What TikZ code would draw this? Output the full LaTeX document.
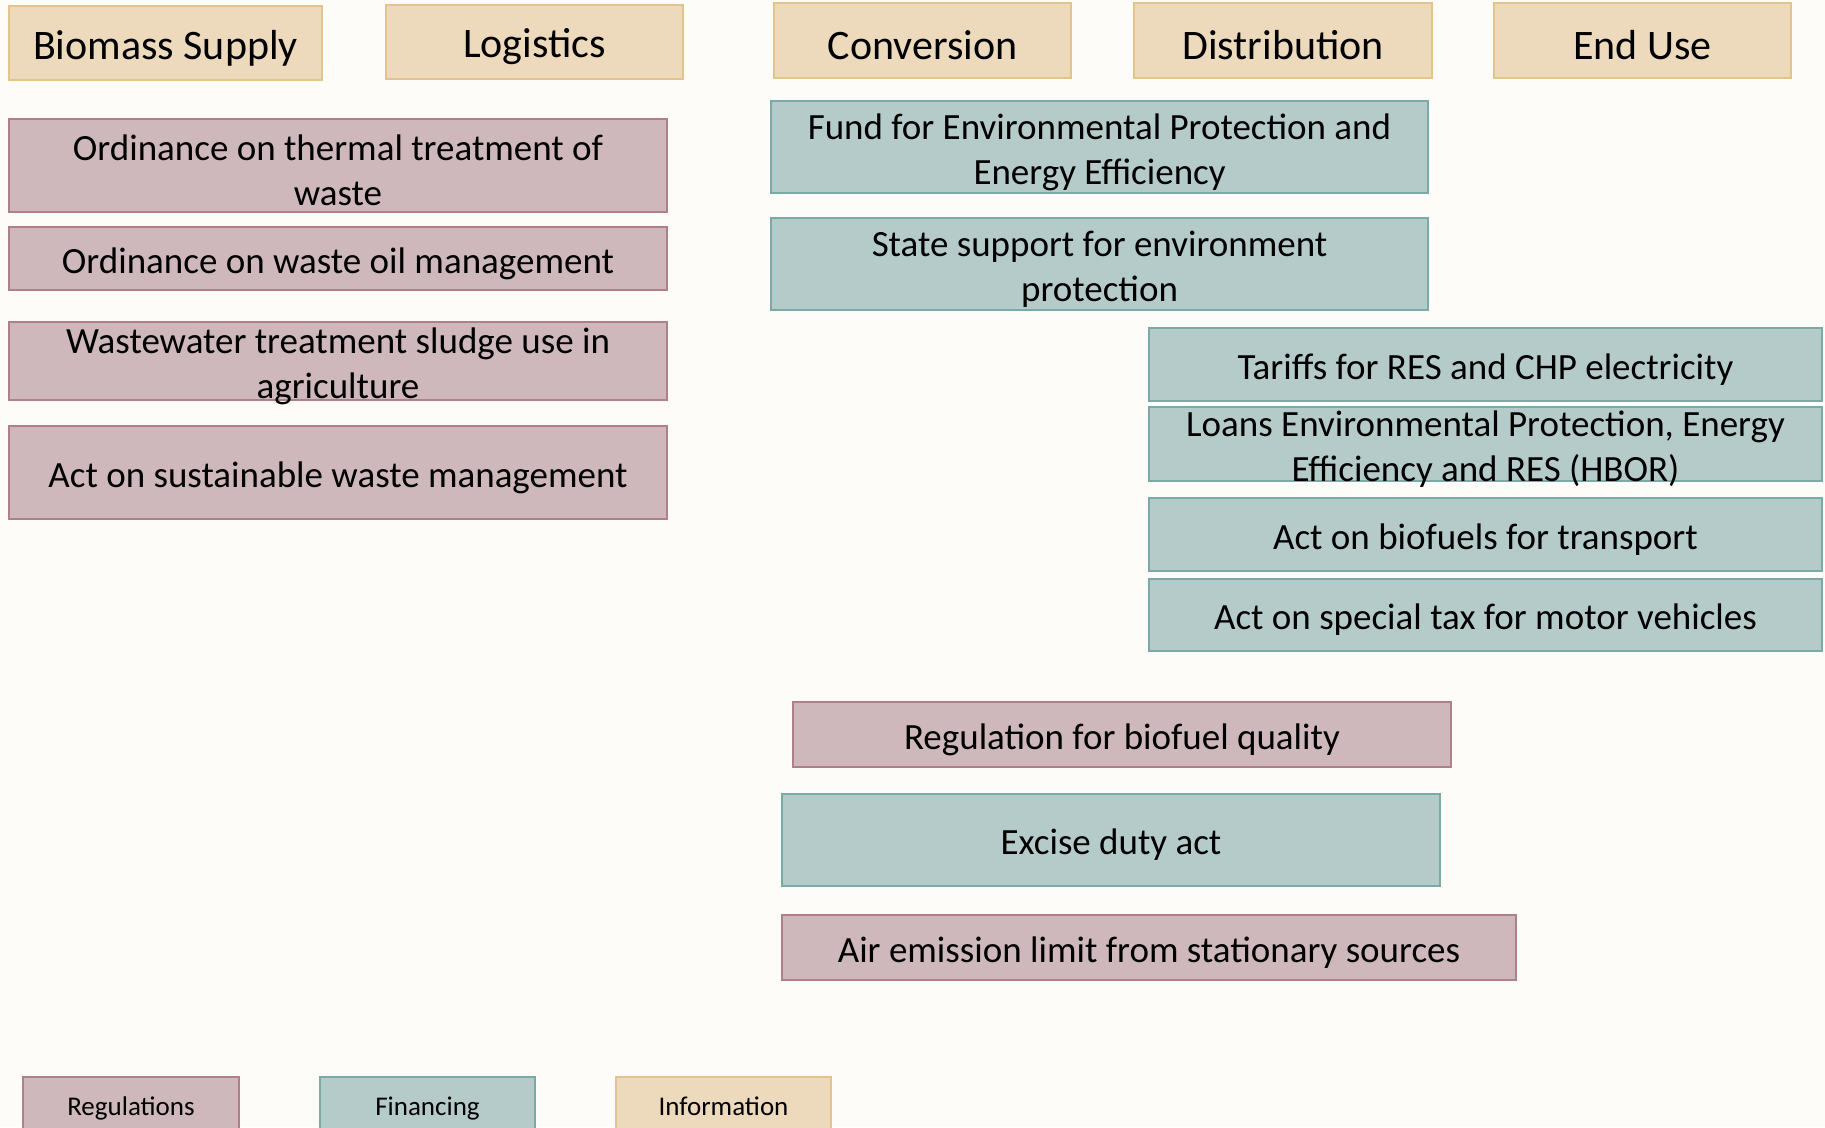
\documentclass[tikz,border=0pt]{standalone}
\usepackage{fontspec}
\setmainfont{Carlito}
\definecolor{bgc}{HTML}{FDFCF8}
\definecolor{regfill}{HTML}{CEB8BC}
\definecolor{regline}{HTML}{B0808A}
\definecolor{finfill}{HTML}{B5CBC9}
\definecolor{finline}{HTML}{79AAA6}
\definecolor{inffill}{HTML}{EDD9BC}
\definecolor{infline}{HTML}{E2C48C}
\tikzset{
  basebox/.style={draw, line width=2pt, inner sep=0pt, outer sep=0pt},
  regbox/.style={basebox, fill=regfill, draw=regline},
  finbox/.style={basebox, fill=finfill, draw=finline},
  infbox/.style={basebox, fill=inffill, draw=infline},
  boxtext/.style={inner sep=0pt, align=center, text=black, yshift=-5pt,
    font=\fontsize{37}{45}\selectfont},
  headtext/.style={boxtext, font=\fontsize{42}{50}\selectfont},
  legtext/.style={inner sep=0pt, text=black, yshift=-8pt, text height=0.7em, text depth=0.25em,
    font=\fontsize{27}{32}\selectfont},
}
\newcommand\mybox[8]{%
  \pgfmathsetmacro\bw{#6-#4}\pgfmathsetmacro\bh{#7-#5}%
  \pgfmathsetmacro\cx{(#4+#6)/2}\pgfmathsetmacro\cy{(#5+#7)/2}%
  \node[#1, minimum width=\bw pt, minimum height=\bh pt] (#3) at (\cx,\cy) {};
  \node[#2] (#3t) at (#3.center) {#8};}
\begin{document}
\begin{tikzpicture}[x=1pt,y=-1pt]
\useasboundingbox (0,0) rectangle (1825,1127);
\fill[bgc] (0,0) rectangle (1825,1127);
% headers
\mybox{infbox}{headtext}{hbio}{9}{6}{322}{80}{Biomass Supply}
\mybox{infbox}{headtext}{hlog}{386}{5}{683}{79}{Logistics}
\mybox{infbox}{headtext}{hcon}{774}{3}{1071}{78}{Conversion}
\mybox{infbox}{headtext}{hdis}{1134}{3}{1432}{78}{Distribution}
\mybox{infbox}{headtext}{hend}{1494}{3}{1791}{78}{End Use}
% left column
\mybox{regbox}{boxtext}{r1}{9}{119}{667}{212}{Ordinance on thermal treatment of\\waste}
\mybox{regbox}{boxtext}{r2}{9}{227}{667}{290}{Ordinance on waste oil management}
\mybox{regbox}{boxtext}{r3}{9}{322}{667}{400}{Wastewater treatment sludge use in\\agriculture}
\mybox{regbox}{boxtext}{r4}{9}{426}{667}{519}{Act on sustainable waste management}
% middle
\mybox{finbox}{boxtext}{f1}{771}{101}{1428}{193}{Fund for Environmental Protection and\\Energy Efficiency}
\mybox{finbox}{boxtext}{f2}{771}{218}{1428}{310}{State support for environment\\protection}
% right
\mybox{finbox}{boxtext}{f3}{1149}{328}{1822}{401}{Tariffs for RES and CHP electricity}
\mybox{finbox}{boxtext}{f4}{1149}{407}{1822}{481}{Loans Environmental Protection, Energy\\Efficiency and RES (HBOR)}
\mybox{finbox}{boxtext}{f5}{1149}{498}{1822}{571}{Act on biofuels for transport}
\mybox{finbox}{boxtext}{f6}{1149}{579}{1822}{651}{Act on special tax for motor vehicles}
% lower
\mybox{regbox}{boxtext}{r5}{793}{702}{1451}{767}{Regulation for biofuel quality}
\mybox{finbox}{boxtext}{f7}{782}{794}{1440}{886}{Excise duty act}
\mybox{regbox}{boxtext}{r6}{782}{915}{1516}{980}{Air emission limit from stationary sources}
% legend
\mybox{regbox}{legtext}{lreg}{23}{1077}{239}{1133}{Regulations}
\mybox{finbox}{legtext}{lfin}{320}{1077}{535}{1133}{Financing}
\mybox{infbox}{legtext}{linf}{616}{1077}{831}{1133}{Information}
\end{tikzpicture}
\end{document}
